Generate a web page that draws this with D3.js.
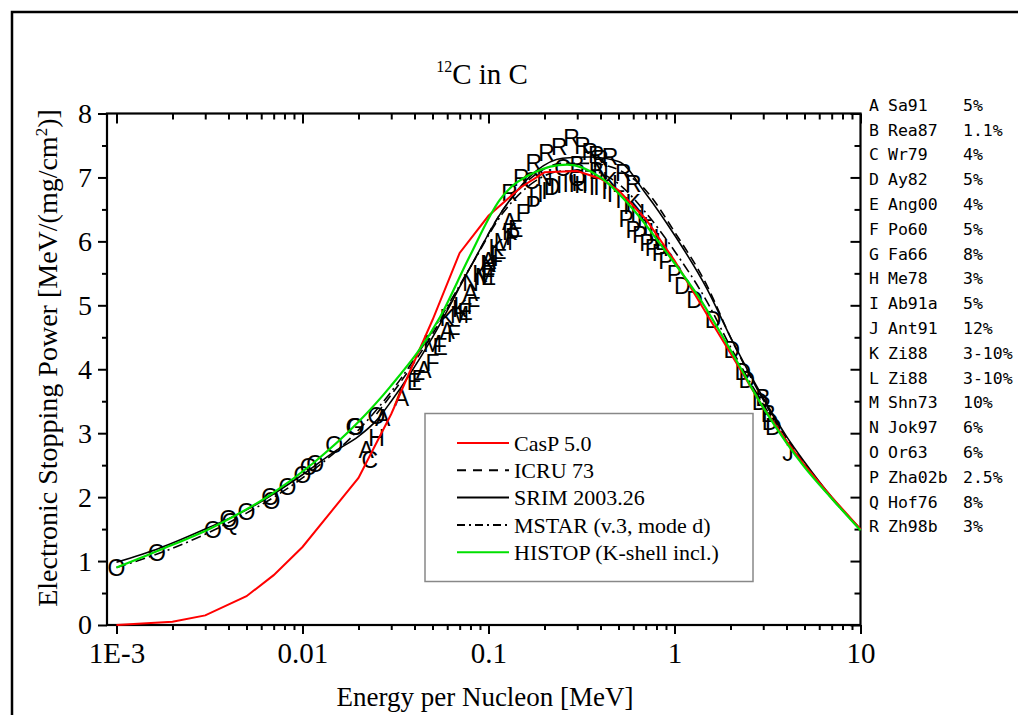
<!DOCTYPE html>
<html>
<head>
<meta charset="utf-8">
<script src="https://cdn.jsdelivr.net/npm/d3@7"></script>
<style>
body { margin: 0; background: #fff; }
svg text { font-family: "Liberation Serif", "Times New Roman", serif; fill: #000; }
.tick line { stroke: #000; stroke-width: 2; }
</style>
</head>
<body>
<svg id="chart" width="1018" height="715"></svg>
<script>
// ---- calculated curves (energy in MeV/u, stopping power in MeV/(mg/cm2)) ----
var casE = [0.001, 0.002, 0.003, 0.005, 0.007, 0.01, 0.02, 0.03, 0.05, 0.07, 0.1, 0.15, 0.2, 0.3, 0.4, 0.5, 0.7, 1, 1.5, 2, 3, 4, 5, 7, 10];
var casS = [0, 0.05, 0.15, 0.45, 0.78, 1.22, 2.3, 3.3, 4.77, 5.82, 6.4, 6.85, 7.08, 7.1, 6.98, 6.8, 6.35, 5.7, 4.85, 4.25, 3.4, 2.88, 2.5, 2.0, 1.5];

var icruE = [0.025, 0.03, 0.05, 0.08, 0.12, 0.18, 0.25, 0.35, 0.5, 0.7, 1, 1.5, 2, 3, 4, 5, 7, 10];
var icruS = [3.3, 3.6, 4.55, 5.6, 6.5, 7.05, 7.22, 7.22, 7.12, 6.8, 6.15, 5.3, 4.5, 3.52, 2.92, 2.52, 1.98, 1.5];

var srimE = [0.001, 0.0017, 0.003, 0.005, 0.01, 0.015, 0.02, 0.025, 0.03, 0.05, 0.08, 0.12, 0.18, 0.25, 0.35, 0.5, 0.7, 1, 1.5, 2, 3, 4, 5, 7, 10];
var srimS = [0.98, 1.2, 1.5, 1.8, 2.35, 2.72, 2.95, 3.2, 3.5, 4.5, 5.6, 6.5, 7.1, 7.3, 7.32, 7.25, 6.75, 6.1, 5.25, 4.5, 3.55, 2.95, 2.55, 2.0, 1.5];

var mstarE = [0.001, 0.002, 0.003, 0.005, 0.01, 0.02, 0.03, 0.05, 0.08, 0.12, 0.18, 0.25, 0.35, 0.5, 0.7, 1, 1.5, 2, 3, 4, 5, 7, 10];
var mstarS = [0.9, 1.2, 1.42, 1.75, 2.3, 3.05, 3.65, 4.6, 5.6, 6.45, 6.95, 7.1, 7.1, 6.9, 6.45, 5.85, 5.05, 4.35, 3.45, 2.88, 2.5, 1.98, 1.5];

var histE = [0.001, 0.0017, 0.0033, 0.0069, 0.0114, 0.0196, 0.0295, 0.055, 0.079, 0.115, 0.174, 0.265, 0.4, 0.6, 0.91, 1.37, 2, 3, 4, 5, 7, 10];
var histS = [0.9, 1.17, 1.53, 2.06, 2.53, 3.15, 3.72, 4.82, 5.76, 6.65, 7.07, 7.2, 7.0, 6.5, 5.82, 5.1, 4.3, 3.4, 2.85, 2.47, 1.98, 1.48];

// ---- experimental data, [energy, stopping power] ----
var ptsA = [[0.022, 2.74], [0.027, 3.24], [0.034, 3.55], [0.045, 4.0], [0.06, 4.6], [0.08, 5.2], [0.1, 5.7], [0.13, 6.3]];
var ptsB = [[0.3, 7.2], [0.38, 7.1], [2.99, 3.55], [3.2, 3.3]];
var ptsC = [[0.023, 2.58], [0.17, 6.95], [0.25, 7.15]];
var ptsD = [[0.22, 6.85], [1.1, 5.3], [1.28, 5.09], [1.61, 4.77], [2.03, 4.3], [2.33, 3.96], [2.45, 3.83], [2.88, 3.49], [3.26, 3.18], [3.4, 3.1]];
var ptsE = [[0.04, 3.8], [0.055, 4.35], [0.075, 4.9], [0.1, 5.45], [0.14, 6.2]];
var ptsF = [[0.042, 3.85], [0.05, 4.1], [0.065, 4.55], [0.083, 5.0], [0.1, 5.5], [0.115, 5.75], [0.153, 6.45]];
var ptsG = [[0.019, 3.1]];
var ptsH = [[0.025, 2.93], [0.31, 6.92]];
var ptsI = [[0.17, 6.7], [0.19, 6.75], [0.2, 6.8], [0.22, 6.85], [0.24, 6.88], [0.26, 6.9], [0.28, 6.9], [0.3, 6.88], [0.33, 6.88], [0.36, 6.86], [0.38, 6.85], [0.42, 6.8], [0.45, 6.75], [0.5, 6.65], [0.55, 6.55], [0.6, 6.45], [0.65, 6.35], [0.7, 6.25], [0.75, 6.15], [0.8, 6.05], [0.9, 5.9]];
var ptsJ = [[4.07, 2.69]];
var ptsK = [[0.06, 4.8], [0.07, 4.95], [0.09, 5.5], [0.1, 5.65], [0.11, 5.9], [0.13, 6.15], [0.45, 6.95], [0.6, 6.6]];
var ptsL = [[0.07, 5.0], [0.11, 5.8], [0.5, 6.9], [0.7, 6.45], [0.85, 6.0]];
var ptsM = [[0.05, 4.4], [0.07, 4.85], [0.095, 5.45], [0.12, 6.0]];
var ptsN = [[0.08, 5.35], [0.1, 5.65], [0.2, 7.0], [0.4, 7.1]];
var ptsO = [[0.001, 0.89], [0.00165, 1.13], [0.0033, 1.49], [0.004, 1.67], [0.005, 1.77], [0.0067, 2.0], [0.0068, 1.95], [0.0083, 2.17], [0.01, 2.35], [0.0108, 2.47], [0.0117, 2.53], [0.0148, 2.82], [0.0193, 3.1], [0.025, 3.28]];
var ptsP = [[0.135, 6.07], [0.174, 6.57], [0.55, 6.35], [0.6, 6.18], [0.65, 6.1], [0.71, 5.98], [0.76, 5.9], [0.83, 5.82], [0.9, 5.7], [1.0, 5.5]];
var ptsQ = [[0.0041, 1.62], [0.3, 7.0]];
var ptsR = [[0.13, 6.76], [0.15, 7.0], [0.175, 7.23], [0.205, 7.38], [0.24, 7.48], [0.28, 7.62], [0.32, 7.5], [0.35, 7.4], [0.38, 7.35], [0.4, 7.3], [0.45, 7.32], [0.53, 7.07], [0.6, 6.9]];

var expLetters = ["A", "B", "C", "D", "E", "F", "G", "H", "I", "J", "K", "L", "M", "N", "O", "P", "Q", "R"];
var expRefs = ["Sa91", "Rea87", "Wr79", "Ay82", "Ang00", "Po60", "Fa66", "Me78", "Ab91a", "Ant91", "Zi88", "Zi88", "Shn73", "Jok97", "Or63", "Zha02b", "Hof76", "Zh98b"];
var expErrors = ["5%", "1.1%", "4%", "5%", "4%", "5%", "8%", "3%", "5%", "12%", "3-10%", "3-10%", "10%", "6%", "6%", "2.5%", "8%", "3%"];
var expPoints = [ptsA, ptsB, ptsC, ptsD, ptsE, ptsF, ptsG, ptsH, ptsI, ptsJ, ptsK, ptsL, ptsM, ptsN, ptsO, ptsP, ptsQ, ptsR];

var curveNames = ["CasP 5.0", "ICRU 73", "SRIM 2003.26", "MSTAR (v.3, mode d)", "HISTOP (K-shell incl.)"];

// ticks
var xMajor = [0.001, 0.01, 0.1, 1, 10];
var xMajorLabels = ["1E-3", "0.01", "0.1", "1", "10"];
var yMajor = [0, 1, 2, 3, 4, 5, 6, 7, 8];

var svg = d3.select("#chart");

// outer figure frame (cut by the page edge)
svg.append("path")
	.attr("d", "M12,715 L12,12 L1018,12")
	.attr("fill", "none")
	.attr("stroke", "#000")
	.attr("stroke-width", 2.5);

var x = d3.scaleLog().domain([Math.pow(10, -3.051), 10]).range([107, 860.5]);
var y = d3.scaleLinear().domain([0, 8]).range([625, 113.5]);

var xMinor = [];
xMajor.slice(0, 4).forEach(function (d) {
	for (var k = 2; k <= 9; k++) xMinor.push(d * k);
});
var yMinor = yMajor.slice(0, 8).map(function (d) { return d + 0.5; });

function styleAxis(g, fontSize) {
	g.select(".domain").remove();
	g.selectAll("text")
		.style("font-family", '"Liberation Serif", serif')
		.style("font-size", fontSize + "px")
		.attr("fill", "#000");
}

// bottom axis (ticks out)
svg.append("g").attr("transform", "translate(0,625)")
	.call(d3.axisBottom(x).tickValues(xMinor).tickSize(5).tickFormat(""))
	.call(styleAxis, 29);
svg.append("g").attr("transform", "translate(0,625)")
	.call(d3.axisBottom(x).tickValues(xMajor).tickSize(9).tickPadding(8)
		.tickFormat(function (d, i) { return xMajorLabels[i]; }))
	.call(styleAxis, 29);

// top axis (ticks in)
svg.append("g").attr("transform", "translate(0,113.5)")
	.call(d3.axisTop(x).tickValues(xMinor).tickSize(-6).tickFormat(""))
	.call(styleAxis, 28);
svg.append("g").attr("transform", "translate(0,113.5)")
	.call(d3.axisTop(x).tickValues(xMajor).tickSize(-10).tickFormat(""))
	.call(styleAxis, 28);

// left axis (ticks out)
svg.append("g").attr("transform", "translate(107,0)")
	.call(d3.axisLeft(y).tickValues(yMinor).tickSize(5).tickFormat(""))
	.call(styleAxis, 28);
svg.append("g").attr("transform", "translate(107,0)")
	.call(d3.axisLeft(y).tickValues(yMajor).tickSize(9).tickPadding(6).tickFormat(d3.format("d")))
	.call(styleAxis, 28);

// right axis (ticks in)
svg.append("g").attr("transform", "translate(860.5,0)")
	.call(d3.axisRight(y).tickValues(yMinor).tickSize(-6).tickFormat(""))
	.call(styleAxis, 28);
svg.append("g").attr("transform", "translate(860.5,0)")
	.call(d3.axisRight(y).tickValues(yMajor).tickSize(-10).tickFormat(""))
	.call(styleAxis, 28);

// plot frame
svg.append("rect")
	.attr("x", 107).attr("y", 113.5)
	.attr("width", 860.5 - 107).attr("height", 625 - 113.5)
	.attr("fill", "none").attr("stroke", "#000").attr("stroke-width", 2.2);

// experimental letters
var marks = svg.append("g");
expPoints.forEach(function (pts, i) {
	marks.selectAll(null)
		.data(pts).enter()
		.append("text")
		.attr("x", function (d) { return x(d[0]); })
		.attr("y", function (d) { return y(d[1]); })
		.attr("dy", "0.36em")
		.attr("text-anchor", "middle")
		.style("font-family", '"Liberation Sans", Arial, sans-serif')
		.style("font-size", "23px")
		.text(expLetters[i]);
});

// calculated curves
var smooth = d3.line()
	.curve(d3.curveMonotoneX)
	.x(function (d) { return x(d[0]); })
	.y(function (d) { return y(d[1]); });
var straight = d3.line()
	.x(function (d) { return x(d[0]); })
	.y(function (d) { return y(d[1]); });

function zipE(es, ss) { return es.map(function (e, i) { return [e, ss[i]]; }); }

var curves = [
	{ data: zipE(icruE, icruS), gen: smooth, color: "#000", dash: "9,5", width: 1.6 },
	{ data: zipE(srimE, srimS), gen: smooth, color: "#000", dash: null, width: 1.6 },
	{ data: zipE(mstarE, mstarS), gen: smooth, color: "#000", dash: "10,4,2,4", width: 1.6 },
	{ data: zipE(casE, casS), gen: straight, color: "#ff0000", dash: null, width: 2 },
	{ data: zipE(histE, histS), gen: smooth, color: "#00e000", dash: null, width: 2.2 }
];
curves.forEach(function (c) {
	svg.append("path")
		.attr("d", c.gen(c.data))
		.attr("fill", "none")
		.attr("stroke", c.color)
		.attr("stroke-width", c.width)
		.attr("stroke-dasharray", c.dash);
});

// legend box
var legColors = ["#ff0000", "#000", "#000", "#000", "#00e000"];
var legDash = [null, "9,7", null, "8,4,2,4", null];
var leg = svg.append("g");
leg.append("rect")
	.attr("x", 425).attr("y", 413.5).attr("width", 328).attr("height", 168)
	.attr("fill", "#fff").attr("stroke", "#888").attr("stroke-width", 1.5);
curveNames.forEach(function (name, i) {
	var yy = 443 + i * 27.3;
	leg.append("line")
		.attr("x1", 457).attr("x2", 509).attr("y1", yy).attr("y2", yy)
		.attr("stroke", legColors[i]).attr("stroke-width", 2)
		.attr("stroke-dasharray", legDash[i]);
	leg.append("text")
		.attr("x", 514).attr("y", yy).attr("dy", "0.35em")
		.style("font-size", "22px")
		.text(name);
});

// reference list at the right
var refs = svg.append("g")
	.style("font-family", '"DejaVu Sans Mono", "Liberation Mono", monospace')
	.style("font-size", "16.5px");
expLetters.forEach(function (l, i) {
	var yy = 105 + i * 24.8;
	refs.append("text").attr("x", 869).attr("y", yy).attr("dy", "0.35em")
		.style("font-family", "inherit").text(l);
	refs.append("text").attr("x", 888).attr("y", yy).attr("dy", "0.35em")
		.style("font-family", "inherit").text(expRefs[i]);
	refs.append("text").attr("x", 963).attr("y", yy).attr("dy", "0.35em")
		.style("font-family", "inherit").text(expErrors[i]);
});

// title
var title = svg.append("text").attr("x", 482).attr("y", 84)
	.attr("text-anchor", "middle").style("font-size", "29px");
title.append("tspan").style("font-size", "16px").attr("dy", "-12").text("12");
title.append("tspan").attr("dy", "12").text("C in C");

// axis titles
svg.append("text")
	.attr("x", 485).attr("y", 706)
	.attr("text-anchor", "middle")
	.style("font-size", "27px")
	.text("Energy per Nucleon [MeV]");

var yt = svg.append("text")
	.attr("transform", "translate(57,358) rotate(-90)")
	.attr("text-anchor", "middle")
	.style("font-size", "28px");
yt.append("tspan").text("Electronic Stopping Power [MeV/(mg/cm");
yt.append("tspan").attr("dy", "-10").style("font-size", "17px").text("2");
yt.append("tspan").attr("dy", "10").text(")]");
</script>
</body>
</html>
